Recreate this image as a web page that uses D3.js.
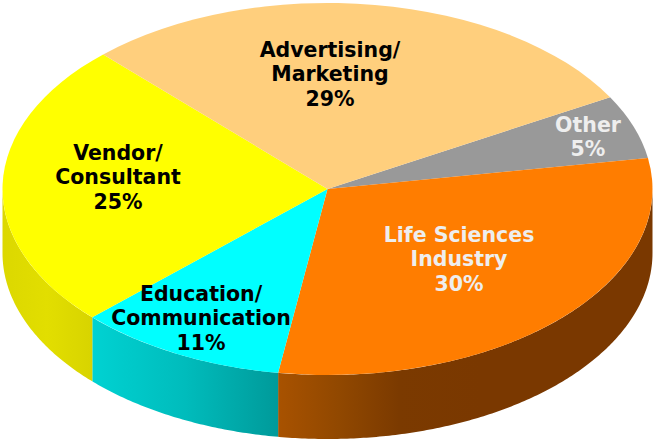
<!DOCTYPE html>
<html>
<head>
<meta charset="utf-8">
<script src="https://cdn.jsdelivr.net/npm/d3@7"></script>
<style>
  html, body { margin: 0; padding: 0; background: #fff; }
  svg { display: block; }
  text { font-family: "DejaVu Sans", Verdana, sans-serif; font-weight: bold; font-size: 20.5px; text-anchor: middle; }
</style>
</head>
<body>
<div id="app"></div>
<script>
// slice order is clockwise from the Other slice, same as the picture
var categories = ["Other", "Life Sciences Industry", "Education/ Communication", "Vendor/ Consultant", "Advertising/ Marketing"]
// slice sizes, the printed percents are in labelLines
var shares = [5.55, 30.1, 10.45, 25, 28.9]
var labelLines = [["Other", "5%"], ["Life Sciences", "Industry", "30%"], ["Education/", "Communication", "11%"], ["Vendor/", "Consultant", "25%"], ["Advertising/", "Marketing", "29%"]]
var topColours = ["#999999", "#ff7d00", "#00ffff", "#ffff00", "#ffcf7d"]
var textColours = ["#eeeeee", "#eeeeee", "#000000", "#000000", "#000000"]

var width = 655, height = 442
var cx = 327.5, cy = 189, rx = 325, ry = 186, depth = 64
var firstAngle = 60.4 * Math.PI / 180

// centre x and first baseline of each label block
var labelAt = [[588, 132], [459, 242], [201, 301], [118, 160], [330, 57]]
var lineGap = 24.3

var svg = d3.select("#app").append("svg").attr("width", width).attr("height", height)

function gradient(id, stops, x1, x2) {
  var g = svg.append("linearGradient").attr("id", id)
    .attr("gradientUnits", "userSpaceOnUse")
    .attr("x1", x1).attr("x2", x2).attr("y1", 0).attr("y2", 0)
  stops.forEach(s => g.append("stop").attr("offset", s[0]).attr("stop-color", s[1]))
}

gradient("wallBrown", [[0, "#a85200"], [0.3, "#914800"], [0.6, "#7b3a00"], [1, "#7a3800"]], 278, 480)
gradient("wallCyan", [[0, "#00d2d2"], [0.5, "#00bcbc"], [1, "#009a9a"]], 92, 278)
gradient("wallYellow", [[0, "#dcd800"], [0.5, "#e2de00"], [1, "#d8d400"]], 3, 92)

var wallFill = [null, "url(#wallBrown)", "url(#wallCyan)", "url(#wallYellow)", null]

var pie = d3.pie().sort(null).startAngle(firstAngle).endAngle(firstAngle + 2 * Math.PI)
var slices = pie(shares)

// the front wall only shows between 3 o'clock and 9 o'clock
var wall = d3.area()
  .x(a => cx + rx * Math.sin(a))
  .y0(a => cy - ry * Math.cos(a))
  .y1(a => cy - ry * Math.cos(a) + depth)

slices.forEach(function(s, i) {
  if (!wallFill[i]) return
  var a0 = Math.max(s.startAngle, Math.PI / 2)
  var a1 = Math.min(s.endAngle, 3 * Math.PI / 2)
  var angles = d3.range(a0, a1, 0.01).concat([a1])
  svg.append("path").attr("d", wall(angles)).attr("fill", wallFill[i])
})

var arc = d3.arc().innerRadius(0).outerRadius(rx)
svg.append("g")
  .attr("transform", "translate(" + cx + "," + cy + ") scale(1," + (ry / rx) + ")")
  .selectAll("path").data(slices).enter().append("path")
  .attr("d", arc)
  .attr("fill", (d, i) => topColours[i])

labelLines.forEach(function(lines, i) {
  var t = svg.append("text").attr("fill", textColours[i]).attr("data-category", categories[i])
  lines.forEach(function(l, j) {
    t.append("tspan").attr("x", labelAt[i][0]).attr("y", labelAt[i][1] + j * lineGap).text(l)
  })
})
</script>
</body>
</html>
